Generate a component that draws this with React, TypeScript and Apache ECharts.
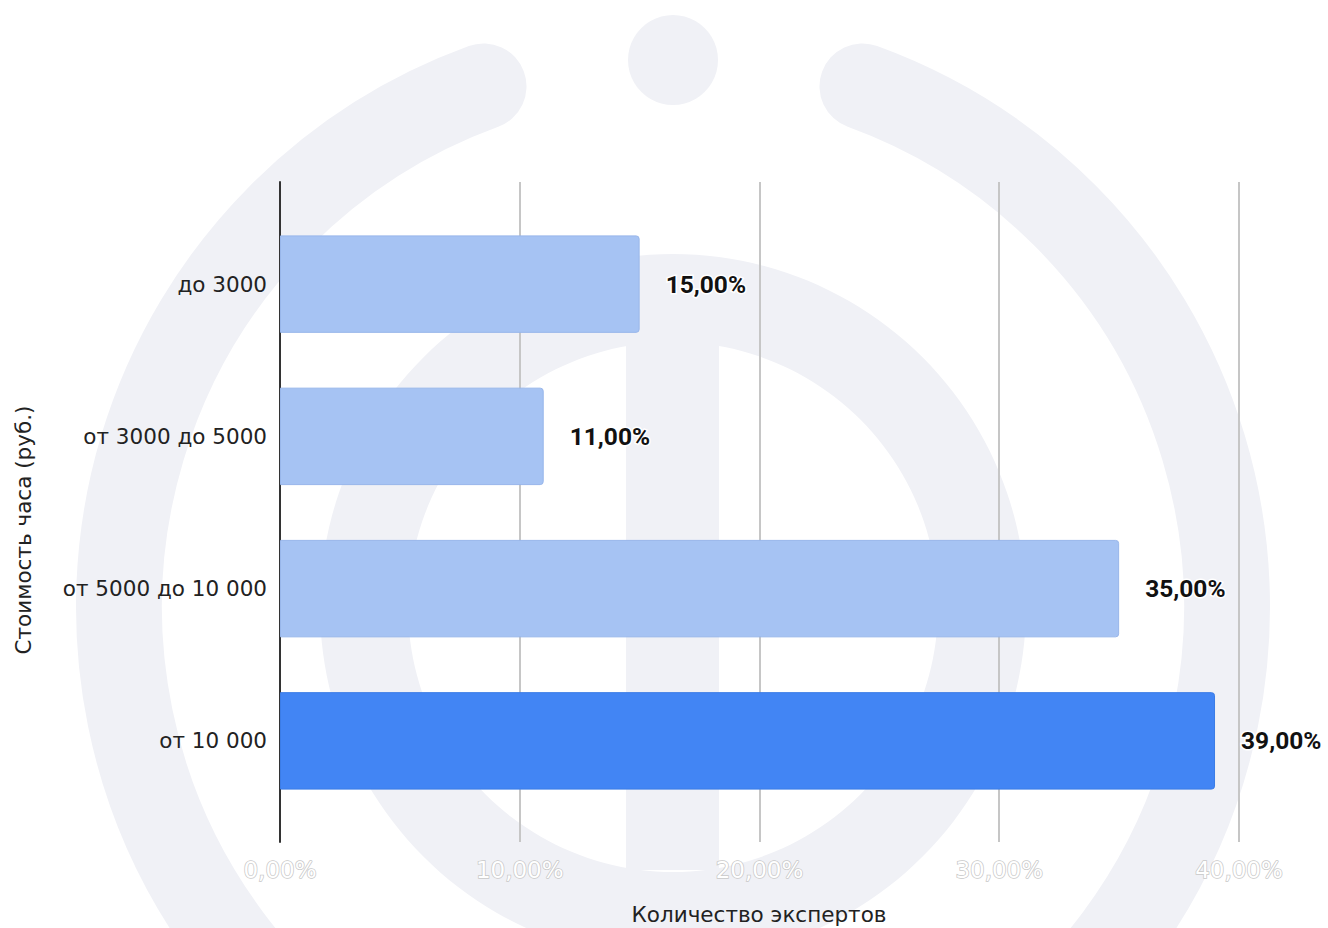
import React, { useEffect, useRef } from "react";
import * as echarts from "echarts";

const categories = ["до 3000", "от 3000 до 5000", "от 5000 до 10 000", "от 10 000"];
const values = [0.15, 0.11, 0.35, 0.39];
const barColors = ["#a6c3f3", "#a6c3f3", "#a6c3f3", "#4285f4"];
const xTitle = "Количество экспертов";
const yTitle = "Стоимость часа (руб.)";

const pct = (v: number) => (v * 100).toFixed(2).replace(".", ",") + "%";
const FONT = "'DejaVu Sans', sans-serif";

export default function App() {
  const ref = useRef<HTMLDivElement>(null);
  useEffect(() => {
    if (!ref.current) return;
    const chart = echarts.init(ref.current, null, { renderer: "svg" });
    const wm = "#f0f1f6";
    const left = 280;
    const width = 959;
    chart.setOption({
      animation: false,
      backgroundColor: "#ffffff",
      graphic: [
        {
          type: "arc",
          z: -10,
          silent: true,
          shape: { cx: 673, cy: 607, r: 554, startAngle: (-70 * Math.PI) / 180, endAngle: (250 * Math.PI) / 180, clockwise: true },
          style: { stroke: wm, lineWidth: 86, fill: "none", lineCap: "round" },
        },
        {
          type: "circle",
          z: -10,
          silent: true,
          shape: { cx: 673, cy: 60, r: 45 },
          style: { fill: wm },
        },
        {
          type: "ring",
          z: -10,
          silent: true,
          shape: { cx: 673, cy: 607, r: 353, r0: 265 },
          style: { fill: wm },
        },
        {
          type: "rect",
          z: -10,
          silent: true,
          shape: { x: 626, y: 340, width: 93, height: 530 },
          style: { fill: wm },
        },
        {
          type: "text",
          z: 10,
          x: 759,
          y: 914,
          style: { text: xTitle, fill: "#222", font: "21.5px " + FONT, textAlign: "center", textVerticalAlign: "middle" },
        },
        {
          type: "text",
          z: 10,
          x: 23,
          y: 530,
          rotation: Math.PI / 2,
          style: { text: yTitle, fill: "#222", font: "21.5px " + FONT, textAlign: "center", textVerticalAlign: "middle" },
        },
      ],
      grid: [
        { left, width, top: 182, height: 660 },
        { left, width, top: 208, height: 609 },
      ],
      xAxis: [
        {
          gridIndex: 0,
          type: "value",
          min: 0,
          max: 0.4,
          interval: 0.1,
          axisLine: { show: false },
          axisTick: { show: false },
          splitLine: { show: true, lineStyle: { color: "#c6c6c6", width: 2 } },
          axisLabel: {
            formatter: (v: number) => pct(v),
            color: "#ffffff",
            textBorderColor: "#c8c8c8",
            textBorderWidth: 1.5,
            fontSize: 23,
            fontFamily: FONT,
            margin: 16,
          },
        },
        {
          gridIndex: 1,
          type: "value",
          min: 0,
          max: 0.4,
          show: false,
        },
      ],
      yAxis: [
        {
          gridIndex: 0,
          type: "category",
          data: [""],
          axisLine: { show: true, lineStyle: { color: "#333", width: 2 } },
          axisTick: { show: false },
          axisLabel: { show: false },
          splitLine: { show: false },
        },
        {
          gridIndex: 1,
          type: "category",
          inverse: true,
          data: categories,
          axisLine: { show: false },
          axisTick: { show: false },
          axisLabel: { color: "#222", fontSize: 21.5, fontFamily: FONT, margin: 13 },
        },
      ],
      series: [
        {
          type: "bar",
          xAxisIndex: 1,
          yAxisIndex: 1,
          barCategoryGap: "36%",
          z: 3,
          data: values.map((v, i) => ({
            value: v,
            itemStyle: { color: barColors[i], borderRadius: [0, 3, 3, 0], borderColor: i === 3 ? "#3b7ce6" : "#98b6ea", borderWidth: 1 },
          })),
          label: {
            show: true,
            position: "right",
            distance: 26,
            formatter: (p: any) => pct(p.value),
            color: "#111",
            fontWeight: "bold",
            fontSize: 24.5,
            fontFamily: "Roboto, sans-serif",
            textBorderColor: "#ffffff",
            textBorderWidth: 3,
          },
        },
      ],
    });
    return () => chart.dispose();
  }, []);
  return <div ref={ref} style={{ position: "fixed", left: 0, top: 0, width: 1328, height: 928 }} />;
}
